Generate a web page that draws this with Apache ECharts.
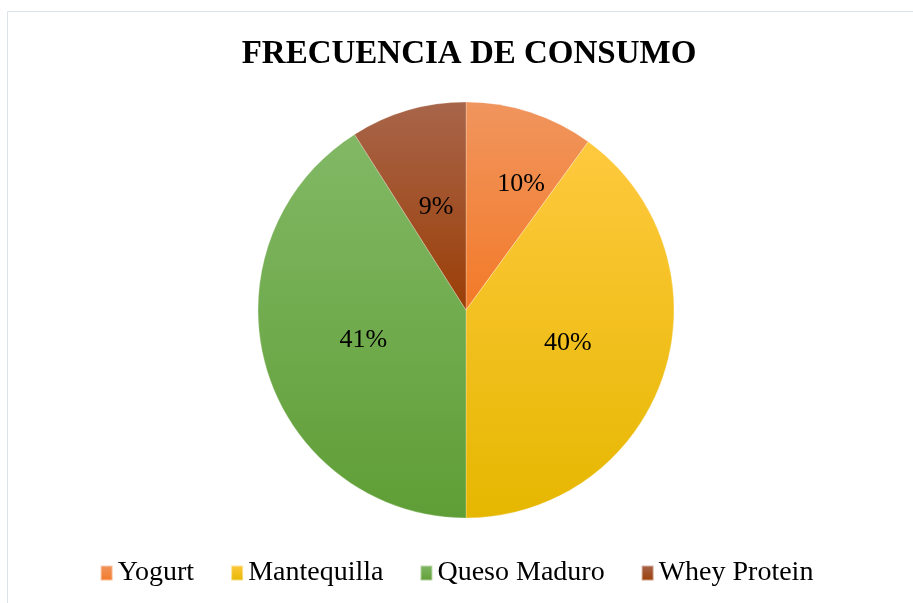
<!DOCTYPE html>
<html>
<head>
<meta charset="utf-8">
<script src="https://cdn.jsdelivr.net/npm/echarts@6/dist/echarts.min.js"></script>
<style>
  html, body { margin: 0; padding: 0; background: #fff; }
  #main { width: 913px; height: 603px; }
</style>
</head>
<body>
<div id="main"></div>
<script>
// datos del gráfico
const categories = ['Yogurt', 'Mantequilla', 'Queso Maduro', 'Whey Protein'];
const values = [10, 40, 41, 9];
// colores arriba / abajo del degradado (estilo Excel)
const topColors = ['#F0955E', '#FFC93E', '#82B865', '#A8654A'];
const bottomColors = ['#F37A28', '#E6B700', '#5F9E36', '#9B3E06'];

function grad(i) {
  return new echarts.graphic.LinearGradient(0, 0, 0, 1, [
    { offset: 0, color: topColors[i] },
    { offset: 1, color: bottomColors[i] }
  ]);
}

const chart = echarts.init(document.getElementById('main'), null, { renderer: 'canvas' });

const option = {
  backgroundColor: '#fff',
  animation: false,
  graphic: [{
    type: 'rect',
    shape: { x: 7.5, y: 11.5, width: 1000, height: 1000 },
    style: { fill: 'none', stroke: '#DCE2EA', lineWidth: 1 },
    silent: true
  }],
  title: {
    text: 'FRECUENCIA DE CONSUMO',
    left: 464,
    textAlign: 'center',
    top: 33,
    textStyle: {
      fontFamily: 'Liberation Serif',
      fontWeight: 'bold',
      fontSize: 33,
      color: '#000'
    }
  },
  legend: {
    bottom: 11,
    left: 'center',
    itemWidth: 12,
    itemHeight: 15,
    itemGap: 36,
    icon: 'rect',
    textStyle: {
      fontFamily: 'Liberation Serif',
      fontSize: 28,
      color: '#000'
    },
    data: categories
  },
  series: [{
    type: 'pie',
    center: [466, 310],
    radius: 208,
    startAngle: 90,
    clockwise: true,
    label: {
      show: true,
      position: 'inside',
      formatter: '{d}%',
      fontFamily: 'Liberation Serif',
      fontSize: 26,
      color: '#000'
    },
    labelLine: { show: false },
    // la etiqueta del 10% queda más afuera en el original
    labelLayout: function (params) {
      if (params.dataIndex === 0) {
        return { dx: 22, dy: -24 };
      }
      return {};
    },
    itemStyle: { borderColor: 'rgba(255,255,255,0.5)', borderWidth: 0.5 },
    emphasis: { disabled: true },
    data: categories.map((name, i) => ({
      name: name,
      value: values[i],
      itemStyle: { color: grad(i) }
    }))
  }]
};

chart.setOption(option);
</script>
</body>
</html>
